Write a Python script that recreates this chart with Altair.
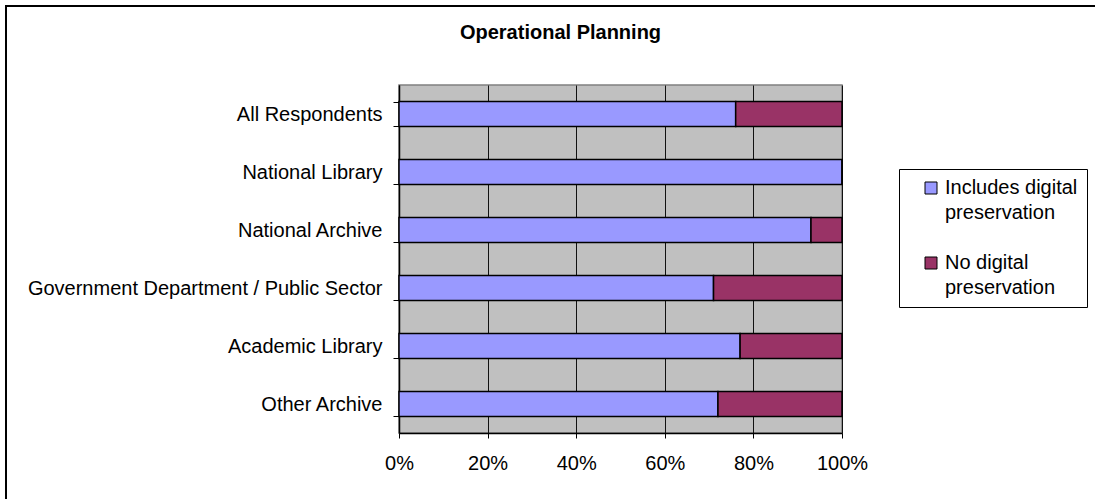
import altair as alt
import pandas as pd

categories = [
    "All Respondents",
    "National Library",
    "National Archive",
    "Government Department / Public Sector",
    "Academic Library",
    "Other Archive",
]
includes_dp = [76, 100, 93, 71, 77, 72]
no_dp = [24, 0, 7, 29, 23, 28]
series = ["Includes digital preservation", "No digital preservation"]
colors = ["#9999FF", "#993366"]
x_ticks = [0, 0.2, 0.4, 0.6, 0.8, 1.0]

rows = []
for c, a, b in zip(categories, includes_dp, no_dp):
    rows.append({"category": c, "series": series[0], "value": a, "order": 0})
    rows.append({"category": c, "series": series[1], "value": b, "order": 1})
df = pd.DataFrame(rows)

FONT = "Liberation Sans"

bars = alt.Chart(df).mark_bar(stroke="black", strokeWidth=1.5).encode(
    y=alt.Y(
        "category:N",
        sort=categories,
        title=None,
        scale=alt.Scale(paddingInner=0.57, paddingOuter=0.285),
        axis=alt.Axis(
            labelFontSize=20, labelFont=FONT, labelColor="black", labelLimit=500,
            tickBand="extent", tickSize=6, tickColor="black", tickWidth=1,
            labelPadding=11, domainColor="black", domainWidth=1.5, grid=False,
        ),
    ),
    x=alt.X(
        "value:Q",
        stack="normalize",
        title=None,
        scale=alt.Scale(domain=[0, 1], nice=False),
        axis=alt.Axis(
            values=x_ticks, format=".0%", labelFontSize=20, labelFont=FONT,
            labelColor="black", grid=True, gridColor="#111111", gridWidth=1,
            tickSize=5, tickColor="black", domainColor="black", domainWidth=1.5,
            labelPadding=15, labelFlush=False,
        ),
    ),
    color=alt.Color(
        "series:N",
        scale=alt.Scale(domain=series, range=colors),
        sort=series,
        legend=alt.Legend(
            title=None, orient="none", legendX=500, legendY=84, padding=9,
            strokeColor="black", fillColor="white",
            symbolType="square", symbolSize=144, symbolStrokeColor="black",
            symbolStrokeWidth=1, symbolOpacity=1, symbolOffset=13,
            labelFontSize=20, labelFont=FONT, labelColor="black",
            labelBaseline="middle", rowPadding=30, labelLimit=300,
            labelExpr="datum.label == 'Includes digital preservation' ? ['Includes digital', 'preservation'] : ['No digital', 'preservation']",
        ),
    ),
    order=alt.Order("order:Q"),
)

frame = alt.Chart(pd.DataFrame({"a": [0]})).mark_rect(
    fillOpacity=0, stroke="black", strokeWidth=2
).encode(
    x=alt.value(-393), x2=alt.value(709), y=alt.value(-79), y2=alt.value(440)
)

chart = alt.layer(frame, bars).properties(
    width=443,
    height=348,
    background="white",
    title=alt.TitleParams(
        "Operational Planning", fontSize=20, font=FONT, fontWeight="bold",
        color="black", anchor="middle", frame="group", dx=-60, offset=-54,
        baseline="alphabetic",
    ),
    autosize=alt.AutoSizeParams(type="none"),
    padding={"left": 399, "top": 85, "right": 253, "bottom": 66},
).configure(
    style={"guide-label": {"lineHeight": 25}}
).configure_view(
    stroke="#808080", strokeWidth=1.5, fill="#C0C0C0"
)

chart.save("out.html", embed_options={"renderer": "svg", "actions": False})
